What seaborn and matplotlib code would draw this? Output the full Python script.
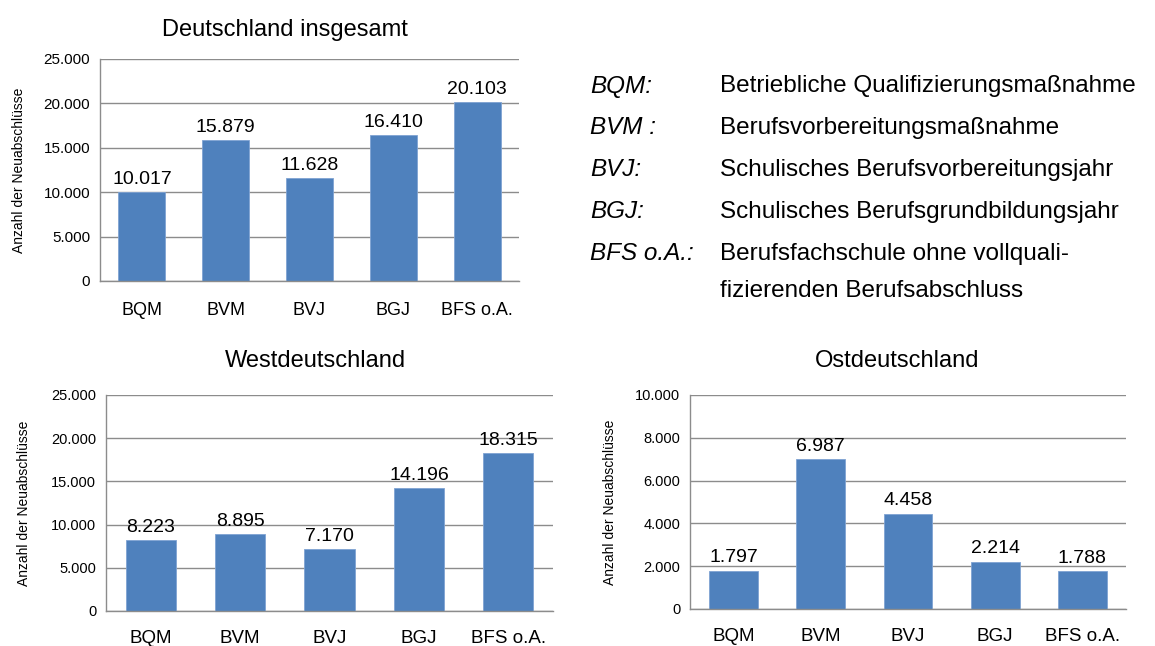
import numpy as np
import pandas as pd
import seaborn as sns
from matplotlib import pyplot as plt
from matplotlib.ticker import FuncFormatter

# Daten
kategorien = ['BQM', 'BVM', 'BVJ', 'BGJ', 'BFS o.A.']
deutschland = [10017, 15879, 11628, 16410, 20103]
west = [8223, 8895, 7170, 14196, 18315]
ost = [1797, 6987, 4458, 2214, 1788]

legende_kurz = ['BQM:', 'BVM :', 'BVJ:', 'BGJ:', 'BFS o.A.:']
legende_lang = ['Betriebliche Qualifizierungsmaßnahme',
                'Berufsvorbereitungsmaßnahme',
                'Schulisches Berufsvorbereitungsjahr',
                'Schulisches Berufsgrundbildungsjahr',
                'Berufsfachschule ohne vollquali-\nfizierenden Berufsabschluss']

sns.set_style('white')
plt.rcParams['font.family'] = ['Liberation Sans', 'DejaVu Sans']
plt.rcParams['text.color'] = 'black'
plt.rcParams['axes.labelcolor'] = 'black'
plt.rcParams['xtick.color'] = 'black'
plt.rcParams['ytick.color'] = 'black'

W, H = 1155, 646
fig = plt.figure(figsize=(W / 100, H / 100), dpi=100)

def de(v, pos=None):
    return f'{int(v):,}'.replace(',', '.')

def px_axes(x0, y0, x1, y1):
    return fig.add_axes([x0 / W, 1 - y1 / H, (x1 - x0) / W, (y1 - y0) / H])

def chart(ax, werte, ymax, step, xfs, yfs, ylab_x, xpad):
    df = pd.DataFrame({'kat': kategorien, 'wert': werte})
    sns.barplot(data=df, x='kat', y='wert', color='#4F81BD', width=0.56,
                saturation=1, ax=ax, edgecolor='#7FA3D3', linewidth=0.6)
    ax.set_ylim(0, ymax)
    ax.set_xlim(-0.5, 4.5)
    ax.set_yticks(np.arange(0, ymax + 1, step))
    ax.yaxis.set_major_formatter(FuncFormatter(de))
    ax.yaxis.grid(True, color='#8C8C8C', linewidth=1)
    ax.set_axisbelow(True)
    ax.set_xticks(range(5))
    ax.set_xticklabels(kategorien, fontsize=xfs)
    ax.set_xticks(np.arange(-0.5, 5, 1), minor=True)
    ax.tick_params(axis='x', which='major', length=0, pad=xpad)
    ax.tick_params(axis='x', which='minor', length=5, color='#8C8C8C', width=1)
    ax.tick_params(axis='y', length=4, color='#8C8C8C', width=1, labelsize=yfs, pad=3,
                   labelcolor='black')
    for s in ['top', 'right']:
        ax.spines[s].set_visible(False)
    for s in ['left', 'bottom']:
        ax.spines[s].set_color('#8C8C8C')
        ax.spines[s].set_linewidth(1)
    ax.set_xlabel('')
    ax.set_ylabel('Anzahl der Neuabschlüsse', fontsize=10, va='center')
    # Position der y-Beschriftung in Pixeln relativ zur Achse
    x0 = ax.get_position().x0 * W
    ax.yaxis.set_label_coords((ylab_x - x0) / (ax.get_position().width * W), 0.5)
    ax.bar_label(ax.containers[0], labels=[de(v) for v in werte], fontsize=14, padding=3)

ax1 = px_axes(100, 59, 519, 281)
chart(ax1, deutschland, 25000, 5000, 13, 11, 19, 15)

ax2 = px_axes(106, 395, 553, 611)
chart(ax2, west, 25000, 5000, 13.5, 10.5, 24, 14)

ax3 = px_axes(690, 395, 1126, 609)
chart(ax3, ost, 10000, 2000, 13.5, 10.5, 610, 14)

# Titel
fig.text(285 / W, 1 - 30 / H, 'Deutschland insgesamt', fontsize=17, ha='center', va='center')
fig.text(315 / W, 1 - 361 / H, 'Westdeutschland', fontsize=17, ha='center', va='center')
fig.text(897 / W, 1 - 361 / H, 'Ostdeutschland', fontsize=17, ha='center', va='center')

# Legende rechts oben
zeilen_y = [86, 128, 170, 212, 254]
for kurz, lang, y in zip(legende_kurz, legende_lang, zeilen_y):
    fig.text(590 / W, 1 - y / H, kurz, fontsize=17.5, style='italic', va='center', ha='left')
    for i, teil in enumerate(lang.split('\n')):
        fig.text(720 / W, 1 - (y + 37 * i) / H, teil, fontsize=17.5, va='center', ha='left')

fig.savefig('out.png', dpi=100)
